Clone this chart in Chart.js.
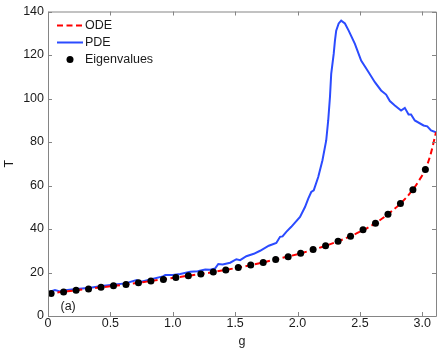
<!DOCTYPE html>
<html>
<head>
<meta charset="utf-8">
<script src="https://cdn.jsdelivr.net/npm/chart.js@4/dist/chart.umd.min.js"></script>
<style>
html,body{margin:0;padding:0;background:#fff;}
#wrap{width:447px;height:352px;position:relative;}
</style>
</head>
<body>
<div id="wrap"><canvas id="c" width="447" height="352"></canvas></div>
<script>
// Eigenvalues (points)
const eigG = [0.025,0.125,0.225,0.325,0.425,0.525,0.625,0.725,0.825,0.925,1.025,1.125,1.225,1.325,1.425,1.525,1.625,1.725,1.825,1.925,2.025,2.125,2.225,2.325,2.425,2.525,2.625,2.725,2.825,2.925,3.025];
const eigT = [10.4,11.0,11.8,12.4,13.2,13.9,14.5,15.3,16.1,16.8,17.7,18.5,19.3,20.2,21.2,22.3,23.4,24.6,26.0,27.2,28.8,30.6,32.3,34.4,36.7,39.6,42.7,46.8,51.7,58.1,67.4];
// ODE curve
const odeG = [0,0.025,0.225,0.425,0.625,0.825,1.025,1.225,1.425,1.625,1.825,2.025,2.225,2.425,2.625,2.725,2.825,2.925,2.975,3.025,3.07,3.11];
const odeT = [10.1,10.4,11.8,13.2,14.5,16.1,17.7,19.3,21.2,23.4,26.0,28.8,32.3,36.7,42.7,46.8,51.7,58.1,62.4,67.4,75.0,84.5];
// PDE curve
const pdeG = [0.0,0.016,0.056,0.096,0.136,0.23,0.34,0.43,0.52,0.62,0.71,0.74,0.82,0.92,0.94,1.0,1.06,1.14,1.20,1.26,1.30,1.34,1.365,1.40,1.46,1.51,1.54,1.59,1.65,1.70,1.77,1.83,1.86,1.88,1.91,1.95,2.02,2.06,2.086,2.11,2.13,2.166,2.20,2.23,2.246,2.26,2.27,2.29,2.30,2.31,2.33,2.35,2.38,2.41,2.46,2.51,2.57,2.62,2.67,2.71,2.74,2.78,2.83,2.86,2.89,2.91,2.94,3.01,3.04,3.07,3.11];
const pdeT = [10.8,11.2,11.9,11.3,11.9,12.4,13.0,13.8,14.4,15.0,16.5,15.6,16.8,18.2,18.8,18.8,19.3,20.3,20.6,21.4,21.3,21.9,23.9,23.7,24.5,26.1,25.7,27.5,28.6,30.0,32.3,33.6,36.4,36.6,38.7,41.0,45.5,50.1,54.0,57.0,57.8,63.9,71.6,80.7,89.9,100.6,111.3,120.5,126.6,131.2,134.5,135.8,134.5,131.2,125.1,117.4,112.1,107.5,103.7,101.8,98.8,96.8,94.5,95.7,92.7,92.7,89.9,87.6,87.2,85.3,84.5];
const xTicks = [0,0.5,1,1.5,2,2.5,3];
const yTicks = [0,20,40,60,80,100,120,140];
const legendLabels = ['ODE','PDE','Eigenvalues'];
const panelLabel = '(a)';

const RED = '#ff0000', BLUE = '#2b4bff', AXIS = '#858585';
const FONT = '"Liberation Sans", Arial, Helvetica, sans-serif';
Chart.defaults.font.family = FONT;
Chart.defaults.color = '#1a1a1a';

const toPts = (xs, ys) => xs.map((x, i) => ({x, y: ys[i]}));

const boxPlugin = {
  id: 'box',
  afterDatasetsDraw(chart) {
    const {ctx, chartArea: a, scales: {x, y}} = chart;
    ctx.save();
    ctx.strokeStyle = AXIS;
    ctx.lineWidth = 1;
    ctx.beginPath();
    ctx.rect(a.left + 0.5, a.top + 0.5, a.right - a.left, a.bottom - a.top);
    ctx.stroke();
    ctx.beginPath();
    xTicks.forEach(v => {
      const p = Math.round(x.getPixelForValue(v)) + 0.5;
      ctx.moveTo(p, a.bottom); ctx.lineTo(p, a.bottom - 4);
      ctx.moveTo(p, a.top); ctx.lineTo(p, a.top + 4);
    });
    yTicks.forEach(v => {
      const p = Math.round(y.getPixelForValue(v)) + 0.5;
      ctx.moveTo(a.left, p); ctx.lineTo(a.left + 4, p);
      ctx.moveTo(a.right, p); ctx.lineTo(a.right - 4, p);
    });
    ctx.stroke();
    // legend
    const lx = a.left + 9, ly = a.top + 14, dy = 17;
    ctx.font = '12.5px ' + FONT;
    ctx.fillStyle = '#1a1a1a';
    ctx.textBaseline = 'middle';
    ctx.strokeStyle = RED; ctx.lineWidth = 2; ctx.setLineDash([6, 3.5]);
    ctx.beginPath(); ctx.moveTo(lx, ly); ctx.lineTo(lx + 26, ly); ctx.stroke();
    ctx.setLineDash([]);
    ctx.fillText(legendLabels[0], lx + 28, ly);
    ctx.strokeStyle = BLUE;
    ctx.beginPath(); ctx.moveTo(lx, ly + dy); ctx.lineTo(lx + 26, ly + dy); ctx.stroke();
    ctx.fillText(legendLabels[1], lx + 28, ly + dy);
    ctx.fillStyle = '#000';
    ctx.beginPath(); ctx.arc(lx + 13, ly + 2 * dy, 3.5, 0, Math.PI * 2); ctx.fill();
    ctx.fillStyle = '#1a1a1a';
    ctx.fillText(legendLabels[2], lx + 28, ly + 2 * dy);
    ctx.fillText(panelLabel, x.getPixelForValue(0.1), y.getPixelForValue(4.3));
    ctx.restore();
  }
};

new Chart(document.getElementById('c'), {
  type: 'scatter',
  data: {
    datasets: [
      {label: 'ODE', data: toPts(odeG, odeT), showLine: true, borderColor: RED, borderWidth: 2, borderDash: [6, 3.5], pointRadius: 0, cubicInterpolationMode: 'monotone', order: 2},
      {label: 'PDE', data: toPts(pdeG, pdeT), showLine: true, borderColor: BLUE, borderWidth: 2, pointRadius: 0, tension: 0, order: 3},
      {label: 'Eigenvalues', data: toPts(eigG, eigT), showLine: false, backgroundColor: '#000', borderColor: '#000', pointRadius: 3.5, pointBorderWidth: 0, order: 1}
    ]
  },
  options: {
    responsive: false,
    animation: false,
    events: [],
    layout: {padding: {top: 11, right: 11, left: 0, bottom: 0}},
    plugins: {legend: {display: false}, tooltip: {enabled: false}},
    scales: {
      x: {
        type: 'linear', min: 0, max: 3.11,
        afterBuildTicks: s => { s.ticks = xTicks.map(v => ({value: v})); },
        afterFit: s => { s.height = 36; },
        grid: {display: false, drawTicks: false},
        border: {display: false},
        ticks: {padding: 0, font: {size: 12.5}, color: '#1a1a1a', maxRotation: 0, autoSkip: false},
        title: {display: true, text: 'g', font: {size: 12.5}, color: '#1a1a1a', padding: {top: 0, bottom: 3}}
      },
      y: {
        type: 'linear', min: 0, max: 140,
        afterBuildTicks: s => { s.ticks = yTicks.map(v => ({value: v})); },
        afterFit: s => { s.width = 48; },
        grid: {display: false, drawTicks: false},
        border: {display: false},
        ticks: {padding: 4, font: {size: 12.5}, color: '#1a1a1a', autoSkip: false},
        title: {display: true, text: 'T', font: {size: 12.5}, color: '#1a1a1a', padding: {top: 2, bottom: 0}}
      }
    }
  },
  plugins: [boxPlugin]
});
</script>
</body>
</html>
